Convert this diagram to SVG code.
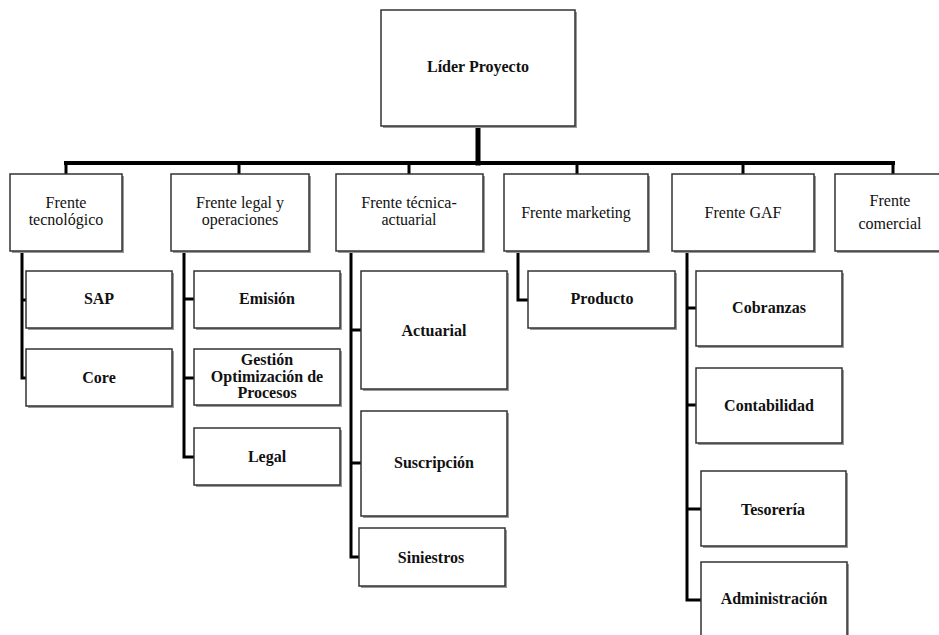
<svg xmlns="http://www.w3.org/2000/svg" width="939" height="635" viewBox="0 0 939 635">
<style>
.box{fill:#fff;stroke:#333;stroke-width:1.5}
.sh{fill:#9a9a9a}
.t{font-family:"Liberation Serif","Times New Roman",serif;font-size:16px;fill:#111;text-anchor:middle}
.b{font-weight:bold}
.c{stroke:#000;fill:none;stroke-linecap:square}
</style>
<rect width="939" height="635" fill="#fff"/>
<g id="connectors">
<path class="c" stroke-width="5" d="M478 127V163"/>
<path class="c" stroke-width="4" d="M66 163H893"/>
<path class="c" stroke-width="3" d="M66 163V174M239 163V174M409 163V174M577 163V174M743 163V174M893 163V174"/>
<path class="c" stroke-width="3" d="M22 252V378M22 300H26M22 378H26"/>
<path class="c" stroke-width="3" d="M184 252V457M184 299H194M184 378H194M184 457H194"/>
<path class="c" stroke-width="3" d="M351 252V557M351 330H361M351 463H361M351 557H359"/>
<path class="c" stroke-width="3" d="M518 252V300H528"/>
<path class="c" stroke-width="3" d="M687 252V600M687 308H696M687 405H696M687 509H701M687 600H701"/>
</g>
<g id="lider"><rect class="sh" x="383" y="12" width="194" height="116"/><rect class="box" x="381" y="10" width="194" height="116"/><text class="t b" x="478" y="72">Líder Proyecto</text></g>
<g id="f-tecnologico"><rect class="sh" x="12" y="176" width="112" height="77"/><rect class="box" x="10" y="174" width="112" height="77"/><text class="t" x="66" y="208">Frente</text><text class="t" x="66" y="225">tecnológico</text></g>
<g id="f-legal"><rect class="sh" x="173" y="176" width="138" height="77"/><rect class="box" x="171" y="174" width="138" height="77"/><text class="t" x="240" y="208">Frente legal y</text><text class="t" x="240" y="225">operaciones</text></g>
<g id="f-tecnica"><rect class="sh" x="338" y="176" width="147" height="77"/><rect class="box" x="336" y="174" width="147" height="77"/><text class="t" x="409" y="208">Frente técnica-</text><text class="t" x="409" y="225">actuarial</text></g>
<g id="f-marketing"><rect class="sh" x="506" y="176" width="144" height="77"/><rect class="box" x="504" y="174" width="144" height="77"/><text class="t" x="576" y="218">Frente marketing</text></g>
<g id="f-gaf"><rect class="sh" x="674" y="176" width="142" height="77"/><rect class="box" x="672" y="174" width="142" height="77"/><text class="t" x="743" y="218">Frente GAF</text></g>
<g id="f-comercial"><rect class="sh" x="837" y="176" width="110" height="77"/><rect class="box" x="835" y="174" width="110" height="77"/><text class="t" x="890" y="206">Frente</text><text class="t" x="890" y="229">comercial</text></g>
<g id="sap"><rect class="sh" x="28" y="273" width="146" height="57"/><rect class="box" x="26" y="271" width="146" height="57"/><text class="t b" x="99" y="304">SAP</text></g>
<g id="core"><rect class="sh" x="28" y="351" width="146" height="57"/><rect class="box" x="26" y="349" width="146" height="57"/><text class="t b" x="99" y="383">Core</text></g>
<g id="emision"><rect class="sh" x="196" y="273" width="146" height="57"/><rect class="box" x="194" y="271" width="146" height="57"/><text class="t b" x="267" y="304">Emisión</text></g>
<g id="gestion"><rect class="sh" x="196" y="351" width="146" height="56"/><rect class="box" x="194" y="349" width="146" height="56"/><text class="t b" x="267" y="365">Gestión</text><text class="t b" x="267" y="382">Optimización de</text><text class="t b" x="267" y="398">Procesos</text></g>
<g id="legal"><rect class="sh" x="196" y="430" width="146" height="57"/><rect class="box" x="194" y="428" width="146" height="57"/><text class="t b" x="267" y="462">Legal</text></g>
<g id="actuarial"><rect class="sh" x="363" y="273" width="146" height="118"/><rect class="box" x="361" y="271" width="146" height="118"/><text class="t b" x="434" y="336">Actuarial</text></g>
<g id="suscripcion"><rect class="sh" x="363" y="413" width="146" height="105"/><rect class="box" x="361" y="411" width="146" height="105"/><text class="t b" x="434" y="468">Suscripción</text></g>
<g id="siniestros"><rect class="sh" x="361" y="530" width="146" height="58"/><rect class="box" x="359" y="528" width="146" height="58"/><text class="t b" x="431" y="563">Siniestros</text></g>
<g id="producto"><rect class="sh" x="530" y="273" width="147" height="57"/><rect class="box" x="528" y="271" width="147" height="57"/><text class="t b" x="602" y="304">Producto</text></g>
<g id="cobranzas"><rect class="sh" x="698" y="273" width="146" height="75"/><rect class="box" x="696" y="271" width="146" height="75"/><text class="t b" x="769" y="313">Cobranzas</text></g>
<g id="contabilidad"><rect class="sh" x="698" y="370" width="146" height="75"/><rect class="box" x="696" y="368" width="146" height="75"/><text class="t b" x="769" y="411">Contabilidad</text></g>
<g id="tesoreria"><rect class="sh" x="703" y="473" width="145" height="75"/><rect class="box" x="701" y="471" width="145" height="75"/><text class="t b" x="773" y="515">Tesorería</text></g>
<g id="administracion"><rect class="sh" x="703" y="564" width="146" height="80"/><rect class="box" x="701" y="562" width="146" height="80"/><text class="t b" x="774" y="604">Administración</text></g>
</svg>
